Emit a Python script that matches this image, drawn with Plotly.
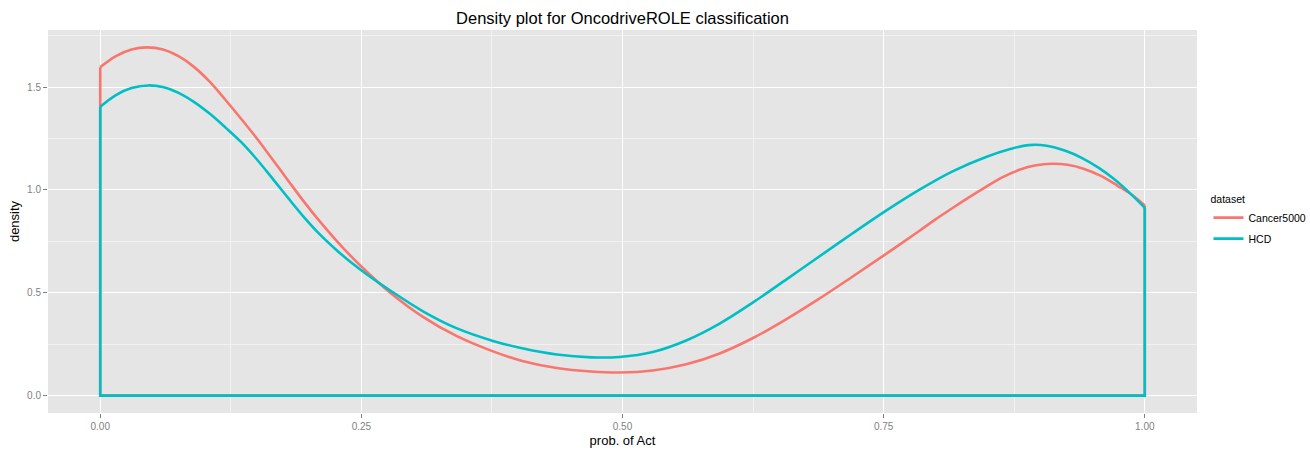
import plotly.graph_objects as go

# Estimated kernel density of the activating-probability score, per dataset
cancer5000_x = [0.000, 0.015, 0.030, 0.045, 0.060, 0.075, 0.090, 0.105, 0.120, 0.135,
                0.150, 0.165, 0.180, 0.195, 0.210, 0.225, 0.240, 0.255, 0.277, 0.309,
                0.341, 0.376, 0.405, 0.437, 0.470, 0.497, 0.529, 0.561, 0.593, 0.625,
                0.657, 0.688, 0.720, 0.752, 0.784, 0.800, 0.816, 0.832, 0.848, 0.864,
                0.880, 0.896, 0.911, 0.926, 0.942, 0.958, 0.974, 0.988, 1.000]
cancer5000_y = [1.597, 1.651, 1.683, 1.693, 1.683, 1.650, 1.597, 1.525, 1.437, 1.345,
                1.250, 1.148, 1.045, 0.943, 0.848, 0.760, 0.678, 0.603, 0.503, 0.383,
                0.290, 0.215, 0.167, 0.134, 0.117, 0.112, 0.122, 0.152, 0.205, 0.280,
                0.372, 0.470, 0.578, 0.688, 0.800, 0.858, 0.912, 0.965, 1.015, 1.062,
                1.098, 1.120, 1.127, 1.122, 1.102, 1.068, 1.020, 0.975, 0.924]

hcd_x = [0.000, 0.015, 0.030, 0.046, 0.060, 0.075, 0.090, 0.105, 0.120, 0.135,
         0.150, 0.165, 0.180, 0.195, 0.210, 0.225, 0.240, 0.255, 0.277, 0.309,
         0.341, 0.376, 0.405, 0.437, 0.470, 0.497, 0.529, 0.561, 0.593, 0.625,
         0.657, 0.688, 0.720, 0.752, 0.784, 0.816, 0.848, 0.872, 0.889, 0.906,
         0.924, 0.940, 0.956, 0.970, 0.985, 1.000]
hcd_y = [1.404, 1.461, 1.495, 1.508, 1.500, 1.472, 1.427, 1.370, 1.303, 1.232,
         1.148, 1.055, 0.960, 0.868, 0.785, 0.713, 0.648, 0.590, 0.513, 0.410,
         0.328, 0.266, 0.229, 0.200, 0.186, 0.188, 0.212, 0.268, 0.350, 0.453,
         0.565, 0.675, 0.788, 0.898, 1.000, 1.090, 1.160, 1.200, 1.218, 1.215,
         1.190, 1.155, 1.107, 1.055, 0.988, 0.913]

series = [
    ("Cancer5000", cancer5000_x, cancer5000_y, "#F8766D"),
    ("HCD", hcd_x, hcd_y, "#00BFC4"),
]

FONT = "Liberation Sans, Arial, Helvetica, sans-serif"
LINE_W = 2.6

fig = go.Figure()
for name, xs, ys, color in series:
    # closed outline of the density polygon: left edge, baseline, right edge
    fig.add_trace(go.Scatter(
        x=[xs[0], xs[0], xs[-1], xs[-1]],
        y=[ys[0], 0, 0, ys[-1]],
        mode="lines", line=dict(color=color, width=LINE_W),
        legendgroup=name, showlegend=False, hoverinfo="skip",
    ))
    # smooth density curve
    fig.add_trace(go.Scatter(
        x=xs, y=ys, name=name, mode="lines",
        line=dict(color=color, width=LINE_W, shape="spline", smoothing=1.0),
        legendgroup=name,
    ))

axis_common = dict(
    showgrid=True, gridcolor="#FFFFFF", gridwidth=1.2,
    zeroline=False, showline=False,
    ticks="outside", ticklen=4, tickwidth=1, tickcolor="#7F7F7F",
    tickfont=dict(family=FONT, size=10, color="#7F7F7F"),
    tickmode="linear",
)

fig.update_layout(
    width=1310, height=450,
    margin=dict(l=48, r=113, t=30, b=37, autoexpand=False),
    paper_bgcolor="#FFFFFF",
    plot_bgcolor="#E5E5E5",
    font=dict(family=FONT, color="#000000"),
    title=dict(text="Density plot for OncodriveROLE classification",
               x=(48 + 1197) / 2 / 1310, xanchor="center",
               y=1 - 18 / 450, yanchor="middle",
               font=dict(family=FONT, size=16.5, color="#000000")),
    xaxis=dict(**axis_common, range=[-0.05, 1.05], tick0=0, dtick=0.25,
               tickformat=".2f",
               minor=dict(dtick=0.125, tick0=0, showgrid=True,
                          gridcolor="#F2F2F2", gridwidth=0.6, ticks=""),
               title=dict(text="prob. of Act", standoff=4,
                          font=dict(family=FONT, size=13, color="#000000"))),
    yaxis=dict(**axis_common, range=[-0.0846, 1.7775], tick0=0, dtick=0.5,
               tickformat=".1f",
               minor=dict(dtick=0.25, tick0=0, showgrid=True,
                          gridcolor="#F2F2F2", gridwidth=0.6, ticks=""),
               title=dict(text="density", standoff=4,
                          font=dict(family=FONT, size=13, color="#000000"))),
    legend=dict(title=dict(text="dataset", font=dict(family=FONT, size=10.5, color="#000000")),
                font=dict(family=FONT, size=10.5, color="#000000"),
                x=1.01, xanchor="left", y=0.5, yanchor="middle",
                bgcolor="rgba(0,0,0,0)", tracegroupgap=2, itemwidth=30),
    showlegend=True,
)

fig.write_html("out.html")
